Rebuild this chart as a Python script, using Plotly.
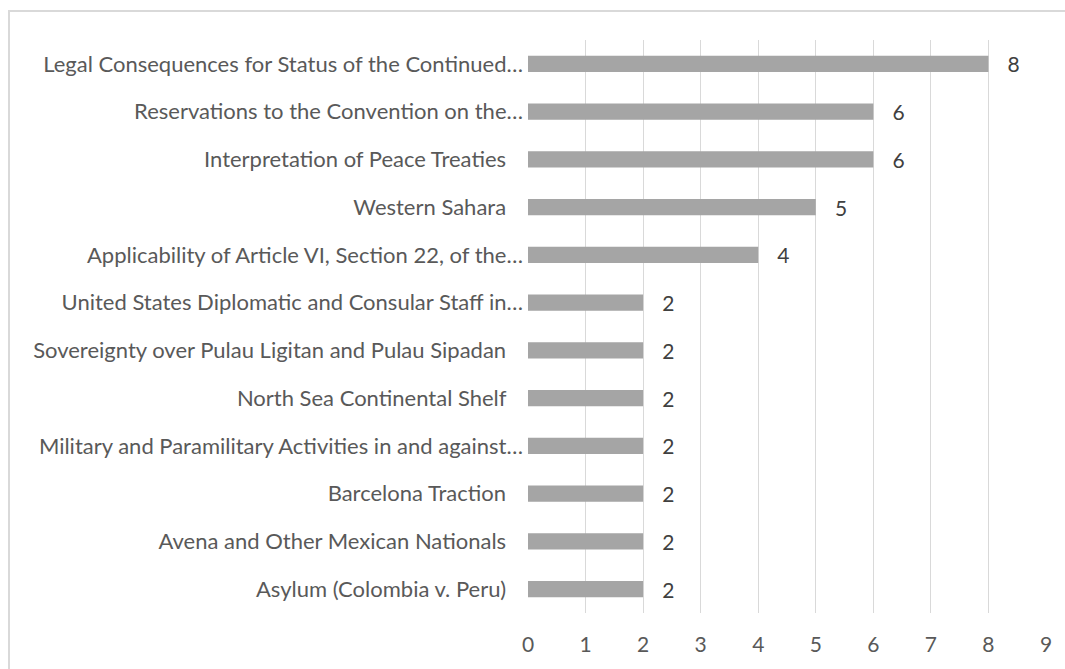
import plotly.graph_objects as go

NB = "\u00a0"
categories = [
    "Asylum (Colombia v. Peru)" + NB * 3,
    "Avena and Other Mexican Nationals" + NB * 3,
    "Barcelona Traction" + NB * 3,
    "Military and Paramilitary Activities in and against…",
    "North Sea Continental Shelf" + NB * 3,
    "Sovereignty over Pulau Ligitan and Pulau Sipadan" + NB * 3,
    "United States Diplomatic and Consular Staff in…",
    "Applicability of Article VI, Section 22, of the…",
    "Western Sahara" + NB * 3,
    "Interpretation of Peace Treaties" + NB * 3,
    "Reservations to the Convention on the…",
    "Legal Consequences for Status of the Continued…",
]
values = [2, 2, 2, 2, 2, 2, 2, 4, 5, 6, 6, 8]
tick_vals = list(range(0, 10))

FONT = "Lato, Open Sans, Liberation Sans, sans-serif"
FS = 21
FS_CAT = 22

L, R, T, B = 528, 19, 40, 56
W, H = 1065, 669
PW, PH = W - L - R, H - T - B

fig = go.Figure(go.Bar(
    x=values, y=categories, orientation="h",
    marker=dict(color="#A5A5A5", line=dict(width=0)),
    text=[NB * 3 + str(v) for v in values], textposition="outside",
    textfont=dict(color="#404040", size=FS, family=FONT),
    constraintext="none",
    cliponaxis=False, width=0.34,
))

fig.update_layout(
    width=W, height=H,
    margin=dict(l=L, r=R, t=T, b=B),
    paper_bgcolor="white", plot_bgcolor="white",
    font=dict(family=FONT, size=FS, color="#595959"),
    showlegend=False,
    xaxis=dict(range=[0, 9], tickvals=tick_vals, showgrid=True, gridcolor="#D9D9D9",
               gridwidth=1, zeroline=False, showline=False, ticks="",
               ticklabelstandoff=17, automargin=False,
               tickfont=dict(size=FS, color="#595959")),
    yaxis=dict(showgrid=False, showline=False, ticks="", ticklabelstandoff=4,
               automargin=False,
               tickfont=dict(size=FS_CAT, color="#595959")),
    shapes=[dict(type="rect", xref="paper", yref="paper",
                 x0=(9 - L) / PW, x1=2,
                 y0=-1, y1=(T + PH - 11) / PH,
                 line=dict(color="#D9D9D9", width=2), fillcolor="rgba(0,0,0,0)", layer="below")],
)

fig.write_html("out.html", config={"displayModeBar": False},
               post_script="document.body.style.margin='0';")
